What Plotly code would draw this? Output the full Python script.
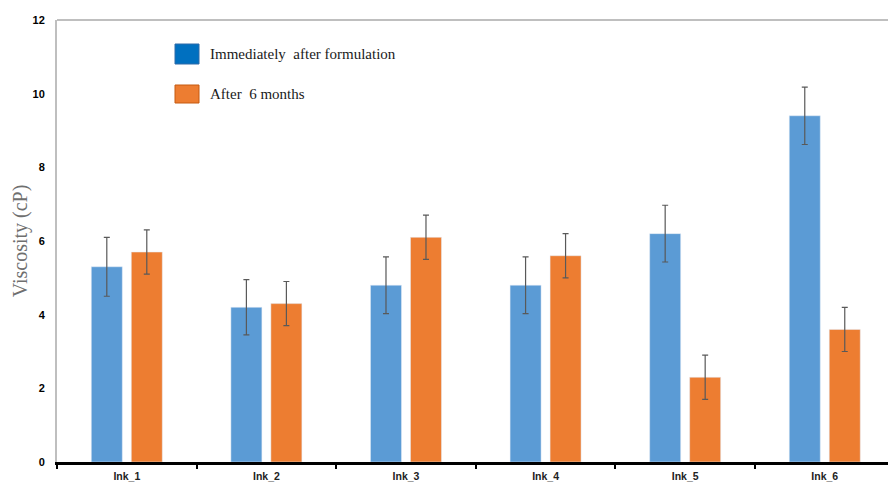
import plotly.graph_objects as go

# Viscosity of the six ink formulations, fresh and after six months of storage
inks = ["Ink_1", "Ink_2", "Ink_3", "Ink_4", "Ink_5", "Ink_6"]
fresh = [5.3, 4.2, 4.8, 4.8, 6.2, 9.4]
fresh_err = [0.8, 0.75, 0.77, 0.77, 0.77, 0.78]
aged = [5.7, 4.3, 6.1, 5.6, 2.3, 3.6]
aged_err = [0.6, 0.6, 0.6, 0.6, 0.6, 0.6]
y_ticks = [0, 2, 4, 6, 8, 10, 12]
legend_labels = ["Immediately  after formulation", "After  6 months"]

W, H = 888, 483
L, R, T, B = 57, 0, 20, 21
PW, PH = W - L - R, H - T - B

BLUE = "#5B9BD5"
ORANGE = "#ED7D31"
ERR = "#595959"


def px(x):
    return (x - L) / PW


def py(y):
    return (H - B - y) / PH


fig = go.Figure()
fig.add_trace(go.Bar(
    x=inks, y=fresh, name=legend_labels[0], marker_color=BLUE,
    error_y=dict(type="data", array=fresh_err, color=ERR, thickness=1.2, width=3),
    showlegend=False,
))
fig.add_trace(go.Bar(
    x=inks, y=aged, name=legend_labels[1], marker_color=ORANGE,
    error_y=dict(type="data", array=aged_err, color=ERR, thickness=1.2, width=3),
    showlegend=False,
))

# Hand-placed legend: swatches and labels
shapes = [
    dict(type="rect", xref="paper", yref="paper",
         x0=px(175), x1=px(199), y0=py(64), y1=py(44),
         fillcolor="#0070C0", line=dict(color="#2E6BA8", width=1)),
    dict(type="rect", xref="paper", yref="paper",
         x0=px(175), x1=px(199), y0=py(103), y1=py(85),
         fillcolor=ORANGE, line=dict(color="#C55A11", width=1)),
    # light frame along the top edge
    dict(type="line", xref="paper", yref="paper",
         x0=0, x1=1, y0=1, y1=1, line=dict(color="#BFBFBF", width=2)),
]
annotations = [
    dict(xref="paper", yref="paper", x=px(208), y=py(54), xanchor="left",
         yanchor="middle", showarrow=False, text=legend_labels[0],
         font=dict(family="Liberation Serif", size=15, color="#1a1a1a")),
    dict(xref="paper", yref="paper", x=px(208), y=py(94), xanchor="left",
         yanchor="middle", showarrow=False, text=legend_labels[1],
         font=dict(family="Liberation Serif", size=15, color="#1a1a1a")),
]

fig.update_layout(
    width=W, height=H,
    margin=dict(l=L, r=R, t=T, b=B, pad=0),
    paper_bgcolor="white", plot_bgcolor="white",
    barmode="group", bargap=0.427, bargroupgap=0.225,
    shapes=shapes, annotations=annotations,
    xaxis=dict(
        type="category", range=[-0.5, 5.453],
        showline=True, linecolor="black", linewidth=2.5,
        ticks="outside", tickson="boundaries", ticklen=4, tickwidth=1.5,
        tickcolor="black", showgrid=False, ticklabelstandoff=3,
        tickfont=dict(family="Liberation Sans", size=10.5, color="#222222", weight="bold"),
    ),
    yaxis=dict(
        range=[0, 12], tickvals=y_ticks, showgrid=False, zeroline=False,
        showline=True, linecolor="#BFBFBF", linewidth=2,
        ticks="", ticklabelstandoff=8,
        tickfont=dict(family="Liberation Sans", size=11, color="black", weight="bold"),
        title=dict(text="Viscosity (cP)", standoff=0,
                   font=dict(family="Liberation Serif", size=20, color="#6F6F6F")),
    ),
)

fig.write_html("out.html")
